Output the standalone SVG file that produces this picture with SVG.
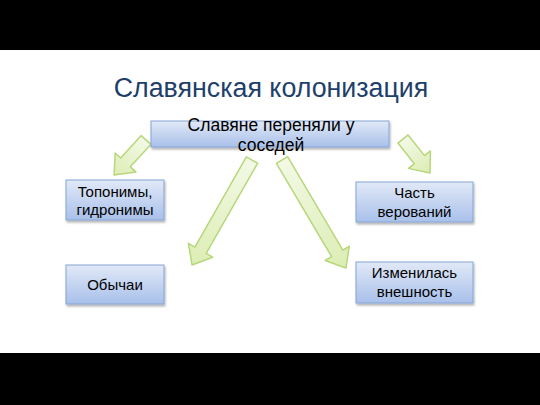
<svg xmlns="http://www.w3.org/2000/svg" width="540" height="405" viewBox="0 0 540 405">
<defs>
<linearGradient id="bg" x1="0" y1="0" x2="0" y2="1">
<stop offset="0" stop-color="#E1E9F7"/>
<stop offset="1" stop-color="#A8C0EA"/>
</linearGradient>
<linearGradient id="ag" x1="0" y1="0" x2="1" y2="0">
<stop offset="0" stop-color="#F3F9E6"/>
<stop offset="1" stop-color="#DCEDB4"/>
</linearGradient>
<filter id="sh" x="-10%" y="-10%" width="130%" height="140%">
<feDropShadow dx="1" dy="2" stdDeviation="1.2" flood-color="#000" flood-opacity="0.3"/>
</filter>
</defs>
<style>
.box{fill:url(#bg);stroke:#86A4D6;stroke-width:1;filter:url(#sh)}
.t{font-family:"Liberation Sans",Arial,sans-serif;font-size:15px;fill:#000;text-anchor:middle}
.arr{fill:url(#ag);stroke:#B8D77A;stroke-width:1.5;stroke-linejoin:round}
</style>
<rect x="0" y="0" width="540" height="405" fill="#fff"/>
<rect x="0" y="0" width="540" height="50" fill="#000"/>
<rect x="0" y="353" width="540" height="52" fill="#000"/>
<text x="271" y="97" style="font-family:'Liberation Sans',Arial,sans-serif;font-size:26.8px;fill:#1F3F6B;text-anchor:middle">Славянская колонизация</text>
<g id="connectors">
<polygon class="arr" transform="translate(146,140) rotate(132.4)" points="0,-6.5 30.4,-6.5 30.4,-14 47.4,0 30.4,14 30.4,6.5 0,6.5"/>
<polygon class="arr" transform="translate(403,139) rotate(51.5)" points="0,-6.5 26.4,-6.5 26.4,-14 43.4,0 26.4,14 26.4,6.5 0,6.5"/>
<polygon class="arr" transform="translate(252,160) rotate(119.7)" points="0,-6.5 103.9,-6.5 103.9,-14 120.9,0 103.9,14 103.9,6.5 0,6.5"/>
<polygon class="arr" transform="translate(282,160) rotate(59.4)" points="0,-6.5 108.5,-6.5 108.5,-14 125.5,0 108.5,14 108.5,6.5 0,6.5"/>
</g>
<g id="center">
<rect class="box" x="151" y="121" width="238" height="26"/>
<text class="t" x="271" y="131" style="font-size:17.5px">Славяне переняли у</text>
<text class="t" x="271" y="151" style="font-size:17.5px">соседей</text>
</g>
<g id="toponyms">
<rect class="box" x="66" y="180" width="98" height="40"/>
<text class="t" x="115" y="197">Топонимы,</text>
<text class="t" x="115" y="215">гидронимы</text>
</g>
<g id="customs">
<rect class="box" x="66" y="265" width="98" height="39"/>
<text class="t" x="115" y="290">Обычаи</text>
</g>
<g id="beliefs">
<rect class="box" x="356" y="182" width="117" height="40"/>
<text class="t" x="414.5" y="198">Часть</text>
<text class="t" x="414.5" y="217">верований</text>
</g>
<g id="appearance">
<rect class="box" x="356" y="262" width="117" height="41"/>
<text class="t" x="414.5" y="278">Изменилась</text>
<text class="t" x="414.5" y="297">внешность</text>
</g>
</svg>
